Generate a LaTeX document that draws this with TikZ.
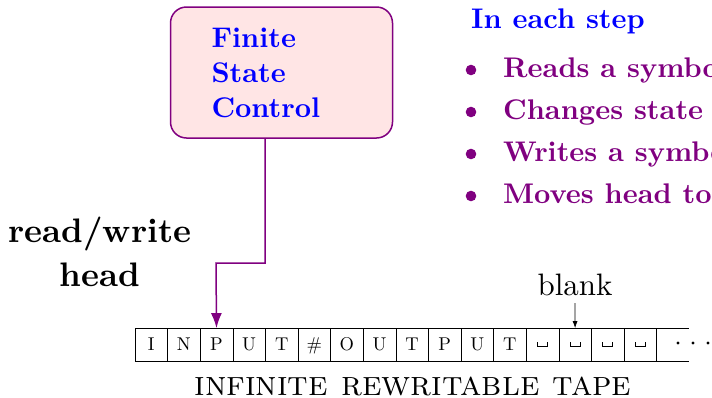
\documentclass[tikz,border=0pt]{standalone}
\usepackage{fontspec}
\setmainfont{lmroman10}[Extension=.otf, UprightFont=*-regular, BoldFont=*-bold,
  ItalicFont=*-italic, BoldItalicFont=*-bolditalic, SmallCapsFont=lmromancaps10-regular]
\usetikzlibrary{arrows.meta,calc}
\definecolor{tmpurple}{rgb}{0.5,0,0.5}
\definecolor{tmpink}{rgb}{1,0.9,0.9}
% the blank symbol written in empty tape cells
\newcommand\blanksym{\raisebox{4pt}{\vrule height 5.4pt width 0.8pt\vrule height 0.8pt width 9.4pt\vrule height 5.4pt width 0.8pt}}
\begin{document}
\begin{tikzpicture}[x=1pt,y=-1pt,
  ctrlbox/.style={draw=tmpurple, line width=1.5pt, fill=tmpink, rounded corners=16pt,
    minimum width=222pt, minimum height=131pt, text width=140pt, inner xsep=41pt,
    inner ysep=0pt, align=left, text=blue,
    font=\fontsize{28.4}{35}\selectfont\bfseries},
  cell/.style={draw, line width=0.6pt, minimum width=32.6pt, minimum height=32.4pt,
    inner sep=0pt, text height=12.6pt, text depth=0pt, font=\fontsize{18.5}{20}\selectfont},
  headline/.style={tmpurple, line width=1.5pt},
  stepitem/.style={anchor=base west, inner sep=0pt, text=tmpurple,
    font=\fontsize{28.4}{34}\selectfont\bfseries},
  bulletdot/.style={fill=tmpurple},
]
\useasboundingbox (0,0) rectangle (712,397);
\clip (0,0) rectangle (712,397);

% finite state control
\node[ctrlbox] (fsc) at (281.5,72.5) {Finite\\State\\Control};

% tape cells
\foreach \s [count=\i] in {I,N,P,U,T,\#,O,U,T,P,U,T,\blanksym,\blanksym,\blanksym,\blanksym}
  \node[cell] (c\i) at ({135+(\i-0.5)*32.6},344.6) {\s};
\coordinate (tapetop) at ($(c16.north east)+(32.5,0)$);
\coordinate (tapebot) at ($(c16.south east)+(32.5,0)$);
\draw[line width=0.6pt] (c16.north east) -- (tapetop);
\draw[line width=0.6pt] (c16.south east) -- (tapebot);
\foreach \x in {678,693,708}
  \fill (\x,343) circle (1.6);

\node[inner sep=0pt, font=\fontsize{34.9}{36}\selectfont\scshape] (tape) at (413,386.5)
  {infinite rewritable tape};

% head connector
\coordinate (hd0) at (265,138);
\coordinate (hd1) at (265,263);
\coordinate (hd2) at (216,263);
\draw[headline, -{Latex[length=15pt,width=11pt]}] (hd0) -- (hd1) -- (hd2) -- (c3.north);

\node[inner sep=0pt, align=center, font=\fontsize{34}{44}\selectfont\bfseries] (rw)
  at (100,252.3) {read/write\\head};

% blank marker
\node[anchor=base, inner sep=0pt, font=\fontsize{31}{31}\selectfont] (blank) at (575,295) {blank};
\coordinate (blankend) at (575,303);
\draw[line width=0.7pt, -{Latex[length=7pt,width=5pt]}] (blankend) -- (c14.north);

% steps
\node[anchor=base west, inner sep=0pt, text=blue, font=\fontsize{28.4}{34}\selectfont\bfseries]
  (steps) at (471,28) {In each step};
\node[stepitem] (s1) at (503,77) {Reads a symbol};
\node[stepitem] (s2) at (503,119) {Changes state};
\node[stepitem] (s3) at (503,161) {Writes a symbol};
\node[stepitem] (s4) at (503,203) {Moves head to};
\foreach \y in {77,119,161,203}
  \fill[bulletdot] (471,\y-7) circle (5.3);
\end{tikzpicture}
\end{document}
